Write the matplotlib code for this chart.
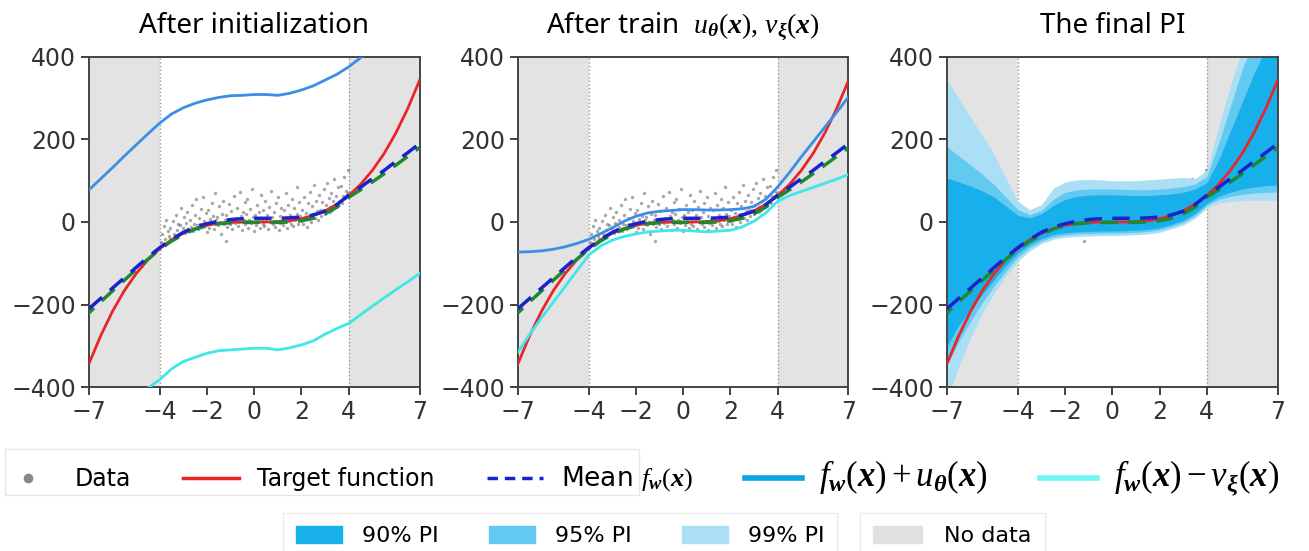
import numpy as np
import matplotlib
matplotlib.use("Agg")
import matplotlib.pyplot as plt
from matplotlib.lines import Line2D
from matplotlib.patches import Patch, Rectangle

plt.rcParams['font.family'] = ['DejaVu Sans']
plt.rcParams['mathtext.fontset'] = 'custom'
plt.rcParams['mathtext.rm'] = 'Liberation Serif'
plt.rcParams['mathtext.it'] = 'Liberation Serif:italic'
# \mathbf is used for the bold italic symbols of the original
plt.rcParams['mathtext.bf'] = 'Liberation Serif:italic:bold'

# grid of x positions the curves were read at
xg = [-7, -6.5, -6, -5.5, -5, -4.5, -4, -3.5, -3, -2.5, -2, -1.5, -1, -0.5, 0,
      0.5, 1, 1.5, 2, 2.5, 3, 3.5, 4, 4.5, 5, 5.5, 6, 6.5, 7]

target = [-343, -275, -216, -166, -125, -91, -64, -43, -27, -16, -8, -3, -1, 0, 0,
          0, 1, 3, 8, 16, 27, 43, 64, 91, 125, 166, 216, 275, 343]
mean_fw = [-210, -185, -160, -135, -110, -85, -62, -42, -25, -12, -4, 2, 6, 8, 9,
           9, 9, 10, 12, 17, 26, 42, 65, 84, 105, 125, 147, 168, 190]
mean_alt = [-220, -193, -167, -141, -115, -90, -66, -46, -30, -17, -9, -4, -2, -1, -1,
            -1, -1, 0, 3, 9, 20, 36, 60, 78, 97, 117, 138, 159, 180]

# panel 1: after initialization
upper_init = [78, 105, 132, 160, 187, 214, 240, 262, 277, 288, 296, 302, 306, 307, 309,
              309, 307, 312, 320, 330, 344, 358, 376, 398, 422, 446, 470, 494, 518]
lower_init = [-480, -465, -450, -435, -420, -402, -382, -356, -338, -328, -318, -312, -310, -308, -306,
              -306, -310, -305, -298, -288, -272, -258, -246, -225, -204, -184, -164, -145, -125]

# panel 2: after training u, v
upper_train = [-73, -72, -70, -66, -60, -52, -42, -28, -14, 2, 14, 22, 26, 28, 30,
               30, 29, 29, 30, 32, 38, 55, 85, 120, 158, 194, 230, 266, 303]
lower_train = [-315, -272, -232, -194, -156, -118, -80, -58, -44, -35, -29, -24, -22, -20, -20,
               -22, -24, -22, -20, -12, 2, 22, 50, 64, 74, 84, 94, 104, 115]

# panel 3: prediction intervals
pi90_hi = [107, 97, 87, 75, 60, 38, 16, 10, 20, 40, 55, 62, 65, 66, 66,
           65, 64, 64, 66, 68, 72, 80, 95, 150, 220, 290, 360, 420, 480]
pi90_lo = [-300, -250, -210, -175, -140, -105, -75, -55, -40, -30, -26, -24, -23, -22, -22,
           -21, -20, -18, -14, -6, 4, 20, 45, 62, 72, 80, 85, 88, 90]
pi95_hi = [182, 160, 138, 115, 90, 60, 30, 18, 28, 55, 72, 78, 80, 80, 80,
           79, 78, 78, 80, 82, 86, 92, 110, 190, 280, 370, 440, 520, 600]
pi95_lo = [-345, -290, -240, -195, -155, -118, -85, -62, -46, -36, -31, -29, -28, -27, -27,
           -26, -25, -23, -19, -11, -1, 15, 40, 55, 62, 67, 70, 72, 73]
pi99_hi = [345, 298, 253, 210, 163, 106, 50, 30, 42, 82, 97, 102, 103, 102, 100,
           100, 100, 102, 104, 106, 108, 105, 125, 230, 330, 420, 520, 610, 700]
pi99_lo = [-430, -350, -280, -220, -172, -130, -95, -70, -52, -42, -37, -35, -34, -33, -33,
           -32, -31, -29, -25, -17, -7, 9, 34, 45, 50, 52, 53, 53, 53]

# observed data (x in [-4, 4])
data_x = [-3.98, -3.95, -3.91, -3.88, -3.84, -3.79, -3.75, -3.71, -3.66, -3.62,
          -3.58, -3.55, -3.50, -3.46, -3.41, -3.37, -3.33, -3.28, -3.24, -3.21,
          -3.18, -3.14, -3.09, -3.05, -3.01, -2.97, -2.93, -2.88, -2.84, -2.81,
          -2.78, -2.74, -2.70, -2.65, -2.61, -2.57, -2.53, -2.49, -2.45, -2.41,
          -2.38, -2.34, -2.30, -2.25, -2.21, -2.17, -2.13, -2.09, -2.05, -2.01,
          -1.98, -1.94, -1.90, -1.86, -1.81, -1.77, -1.73, -1.69, -1.65, -1.61,
          -1.58, -1.54, -1.50, -1.46, -1.41, -1.37, -1.33, -1.29, -1.25, -1.21,
          -1.18, -1.14, -1.10, -1.06, -1.01, -0.97, -0.93, -0.89, -0.85, -0.81,
          -0.78, -0.74, -0.70, -0.66, -0.61, -0.57, -0.53, -0.49, -0.45, -0.41,
          -0.38, -0.34, -0.30, -0.26, -0.21, -0.17, -0.13, -0.09, -0.05, -0.01,
          0.02, 0.06, 0.10, 0.14, 0.19, 0.23, 0.27, 0.31, 0.35, 0.39,
          0.42, 0.46, 0.50, 0.54, 0.59, 0.63, 0.67, 0.71, 0.75, 0.79,
          0.82, 0.86, 0.90, 0.94, 0.99, 1.03, 1.07, 1.11, 1.15, 1.19,
          1.22, 1.26, 1.30, 1.34, 1.39, 1.43, 1.47, 1.51, 1.55, 1.59,
          1.62, 1.66, 1.70, 1.74, 1.79, 1.83, 1.87, 1.91, 1.95, 1.99,
          2.02, 2.06, 2.10, 2.14, 2.19, 2.23, 2.27, 2.31, 2.35, 2.39,
          2.42, 2.46, 2.50, 2.54, 2.59, 2.63, 2.67, 2.71, 2.75, 2.79,
          2.82, 2.86, 2.90, 2.94, 2.99, 3.03, 3.07, 3.11, 3.15, 3.19,
          3.22, 3.26, 3.30, 3.34, 3.39, 3.43, 3.47, 3.51, 3.55, 3.59,
          3.62, 3.66, 3.70, 3.74, 3.79, 3.83, 3.87, 3.91, 3.95, 3.99]
data_y = [-62, -48, -30, -55, -10, -41, 5, -50, -22, -35,
          -40, -15, -44, 2, -28, -36, 18, -20, -31, -5,
          -30, -8, 35, -24, -15, 12, -27, -2, 25, -18,
          -20, 5, -12, 40, -22, -5, 18, -14, 55, -8,
          -16, 10, -4, 32, -12, 60, 2, -10, 22, -25,
          -6, 28, -14, 8, 45, -3, 15, -18, 70, 4,
          12, -8, 38, 0, -30, 20, 52, -5, 6, -45,
          18, -12, 3, 44, -4, 26, -16, 8, 62, -2,
          10, 35, -10, 0, 72, 15, -20, 24, 4, 48,
          -6, 20, 55, -14, 6, 32, -3, 80, 12, -22,
          16, -8, 40, 2, 25, -15, 65, 8, -4, 30,
          -10, 50, 5, 18, -18, 36, 0, 75, 12, -5,
          24, -12, 45, 3, 60, -20, 14, -2, 33, 8,
          -8, 28, 10, 70, -14, 40, 2, 18, -4, 55,
          12, -10, 35, 6, 85, 20, -6, 48, 15, 2,
          30, -4, 60, 12, 22, -12, 45, 8, 72, 18,
          0, 38, 20, 90, 10, 52, 26, 4, 66, 30,
          14, 48, 28, 80, 20, 40, 95, 30, 58, 24,
          36, 70, 30, 52, 105, 42, 64, 38, 85, 48,
          50, 88, 46, 62, 110, 58, 75, 66, 125, 70]

c_red = '#e8262a'
c_mean = '#1a22cc'
c_alt = '#1d8a30'
c_up = '#3b8ee6'
c_low = '#3fe6ea'
c_90 = '#18b0ea'
c_95 = '#62c9f0'
c_99 = '#aadff5'
c_gray = '#e3e3e3'
title_font = ['Noto Sans', 'DejaVu Sans']

fig = plt.figure(figsize=(13.09, 5.51), dpi=100)
lefts = [0.068, 0.3957, 0.7235]
axes = [fig.add_axes([l, 0.2976, 0.2525, 0.599]) for l in lefts]

titles = ['After initialization',
          r'After train  $u_{\mathbf{\theta}}(\mathbf{x}),\, v_{\mathbf{\xi}}(\mathbf{x})$',
          'The final PI']


def base(ax, title):
    ax.axvspan(-7, -4, color=c_gray, lw=0, zorder=0)
    ax.axvspan(4, 7, color=c_gray, lw=0, zorder=0)
    ax.axvline(-4, color='#999999', ls=':', lw=1, zorder=1)
    ax.axvline(4, color='#999999', ls=':', lw=1, zorder=1)
    ax.set_xlim(-7, 7)
    ax.set_ylim(-400, 400)
    ax.set_xticks([-7, -4, -2, 0, 2, 4, 7])
    ax.set_yticks([-400, -200, 0, 200, 400])
    ax.tick_params(labelsize=17, colors='#333333', length=6, width=1.3)
    for s in ax.spines.values():
        s.set_color('#444444')
        s.set_linewidth(1.4)
    ax.set_title(title, fontsize=20, family=title_font, pad=17)


def means(ax):
    ax.plot(xg, target, color=c_red, lw=2, zorder=4)
    ax.plot(xg, mean_alt, color=c_alt, lw=2.5, ls=(3, (5, 3)), zorder=5)
    ax.plot(xg, mean_fw, color=c_mean, lw=2.5, ls=(0, (5, 3)), zorder=6)


for ax, t in zip(axes, titles):
    base(ax, t)

# panel 1
ax = axes[0]
ax.scatter(data_x, data_y, s=6, color='#333333', alpha=0.42, lw=0, zorder=2)
ax.plot(xg, upper_init, color=c_up, lw=2, zorder=3)
ax.plot(xg, lower_init, color=c_low, lw=2, zorder=3)
means(ax)

# panel 2
ax = axes[1]
ax.scatter(data_x, data_y, s=6, color='#333333', alpha=0.42, lw=0, zorder=2)
means(ax)
ax.plot(xg, upper_train, color=c_up, lw=2, zorder=7)
ax.plot(xg, lower_train, color=c_low, lw=2, zorder=7)

# panel 3
ax = axes[2]
ax.scatter(data_x, data_y, s=6, color='#333333', alpha=0.42, lw=0, zorder=1.5)
ax.fill_between(xg, pi99_lo, pi99_hi, color=c_99, lw=0, zorder=2)
ax.fill_between(xg, pi95_lo, pi95_hi, color=c_95, lw=0, zorder=2)
ax.fill_between(xg, pi90_lo, pi90_hi, color=c_90, lw=0, zorder=2)
means(ax)

# legends
fw = r'$f_{\mathbf{w}}(\mathbf{x})$'
h1 = [Line2D([], [], ls='', marker='o', color='#888888', ms=6),
      Line2D([], [], color=c_red, lw=2.5),
      Line2D([], [], color=c_mean, lw=2.5, ls=(0, (3, 2))),
      Line2D([], [], color='#0aa6ea', lw=4),
      Line2D([], [], color='#70f4f4', lw=4)]
l1 = ['Data', 'Target function', 'Mean ' + fw,
      r'$f_{\mathbf{w}}(\mathbf{x}) + u_{\mathbf{\theta}}(\mathbf{x})$',
      r'$f_{\mathbf{w}}(\mathbf{x}) - v_{\mathbf{\xi}}(\mathbf{x})$']
leg1 = fig.legend(h1, l1, loc='center left', bbox_to_anchor=(0.0, 0.133), ncol=5,
                  frameon=False, prop={'size': 17}, borderaxespad=0, borderpad=0,
                  handlelength=2.4, columnspacing=2.2, handletextpad=0.75)
leg1.get_texts()[2].set_fontsize(19)
for t in leg1.get_texts()[3:]:
    t.set_fontsize(25)
fig.add_artist(Rectangle((0.0038, 0.1016), 0.4843, 0.0835, transform=fig.transFigure,
                         fill=False, ec='#e6e6e6', lw=1))

h2 = [Patch(color=c_90), Patch(color=c_95), Patch(color=c_99)]
leg2 = fig.legend(h2, ['90% PI', '95% PI', '99% PI'], loc='center left',
                  bbox_to_anchor=(0.2162, 0.027), ncol=3, frameon=True,
                  prop={'size': 16}, borderaxespad=0, borderpad=0.6,
                  handlelength=2.07, handleheight=0.75, columnspacing=2.25,
                  handletextpad=0.9, fancybox=False, edgecolor='#e6e6e6')
leg3 = fig.legend([Patch(color='#e0e0e0')], ['No data'], loc='center left',
                  bbox_to_anchor=(0.657, 0.027), frameon=True,
                  prop={'size': 16}, borderaxespad=0, borderpad=0.6,
                  handlelength=2.2, handleheight=0.75, handletextpad=1.0,
                  fancybox=False, edgecolor='#e6e6e6')

fig.savefig('out.png', dpi=100)
